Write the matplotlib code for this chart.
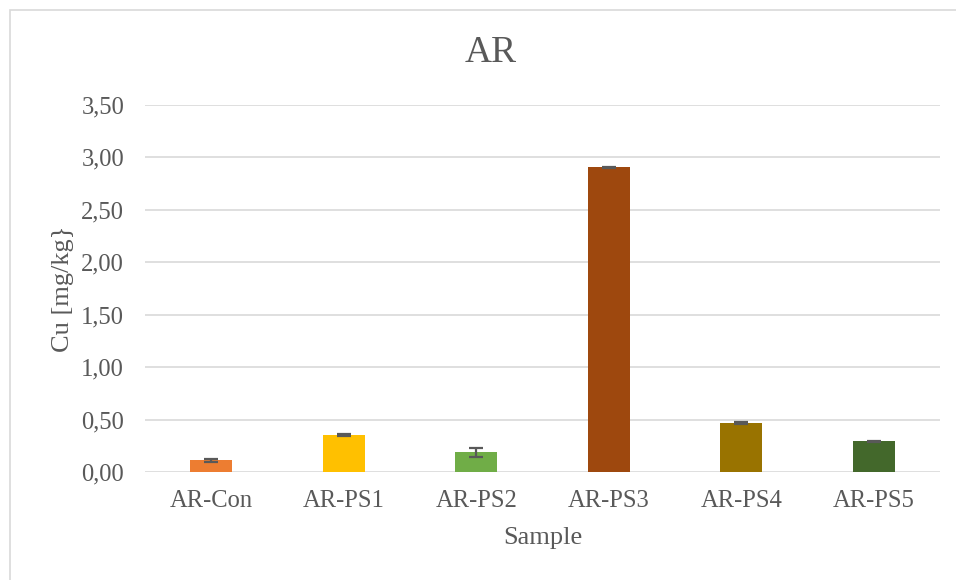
import matplotlib
matplotlib.use("Agg")
import matplotlib.pyplot as plt
from matplotlib.patches import Rectangle
from matplotlib.ticker import FuncFormatter

categories = ["AR-Con", "AR-PS1", "AR-PS2", "AR-PS3", "AR-PS4", "AR-PS5"]
values = [0.112, 0.353, 0.188, 2.907, 0.467, 0.293]
errors = [0.012, 0.005, 0.045, 0.005, 0.013, 0.005]
colors = ["#ED7D31", "#FFC000", "#70AD47", "#9E480E", "#997300", "#43682B"]
yticks = [0.0, 0.5, 1.0, 1.5, 2.0, 2.5, 3.0, 3.5]

plt.rcParams['font.family'] = ['Liberation Serif', 'DejaVu Serif']
text_color = "#595959"

W, H = 956, 580
fig = plt.figure(figsize=(W / 100, H / 100), dpi=100)
fig.patch.set_facecolor("white")

# outer chart border
fig.add_artist(Rectangle((10 / W, -0.1), 1.2, 1 - 10 / H + 0.1, transform=fig.transFigure,
                         fill=False, edgecolor="#d9d9d9", linewidth=1.2))

left, right = 145 / W, 940 / W
top, bottom = 1 - 105 / H, 1 - 472 / H
ax = fig.add_axes([left, bottom, right - left, top - bottom])

x = list(range(len(categories)))
ax.bar(x, values, width=0.317, color=colors, zorder=3)
ax.errorbar(x, values, yerr=errors, fmt="none", ecolor=text_color, elinewidth=1.6,
            capsize=4.7, capthick=1.6, zorder=4)

ax.set_xlim(-0.5, len(categories) - 0.5)
ax.set_ylim(0, 3.5)
ax.set_yticks(yticks)
ax.yaxis.set_major_formatter(FuncFormatter(lambda v, p: f"{v:.2f}".replace(".", ",")))
ax.set_xticks(x)
ax.set_xticklabels(categories)
ax.grid(axis="y", color="#d9d9d9", linewidth=1.2, zorder=0)
ax.set_axisbelow(True)
for s in ax.spines.values():
    s.set_visible(False)
ax.tick_params(axis="both", length=0, colors=text_color, labelsize=17.7)
ax.tick_params(axis="y", pad=15)
ax.tick_params(axis="x", pad=13)

fig.text(491 / W, 1 - 62 / H, "AR", fontsize=27, color=text_color, ha="center", va="baseline")
ax.set_xlabel("Sample", fontsize=19, color=text_color, labelpad=11)
ax.set_ylabel("Cu [mg/kg}", fontsize=19, color=text_color, labelpad=5)

fig.savefig("out.png", dpi=100)
